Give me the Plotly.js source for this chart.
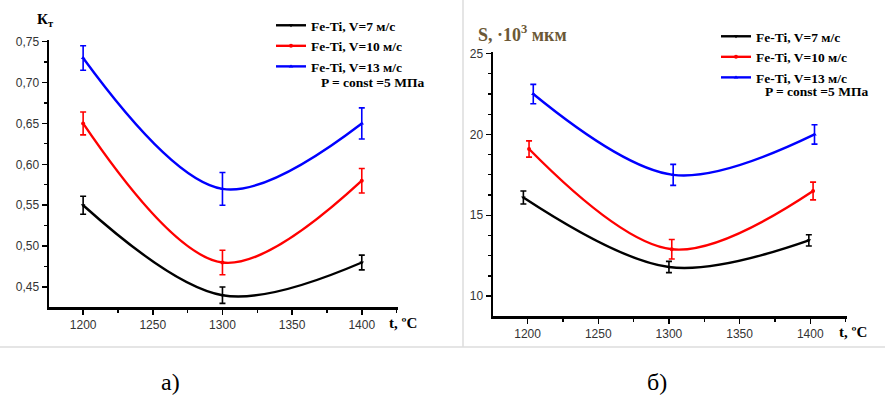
<!DOCTYPE html>
<html>
<head>
<meta charset="utf-8">
<script src="https://cdn.plot.ly/plotly-3.0.1.min.js"></script>
<style>
  html, body { margin: 0; padding: 0; background: #fff; }
  #chart { width: 885px; height: 403px; }
</style>
</head>
<body>
<div id="chart"></div>
<script>
// Temperature points, °C
const tempA = [1200, 1300, 1400];
const tempB7 = [1197, 1300, 1399];
const tempB10 = [1201, 1302, 1402];
const tempB13 = [1204, 1303, 1403];

// Series names
const seriesNames = ['Fe-Ti, V=7 м/с', 'Fe-Ti, V=10 м/с', 'Fe-Ti, V=13 м/с'];

// Panel а) — coefficient Kт
const kt7 = [0.55, 0.44, 0.48];
const kt10 = [0.65, 0.48, 0.58];
const kt13 = [0.73, 0.57, 0.65];
const kt7Err = [0.011, 0.010, 0.009];
const kt10Err = [0.014, 0.015, 0.015];
const kt13Err = [0.015, 0.020, 0.019];

// Panel б) — S, ·10³ мкм
const s7 = [16.1, 11.8, 13.45];
const s10 = [19.1, 12.9, 16.5];
const s13 = [22.5, 17.5, 20.0];
const s7Err = [0.4, 0.35, 0.35];
const s10Err = [0.5, 0.6, 0.55];
const s13Err = [0.6, 0.65, 0.6];

const colors = ['#000000', '#ff0000', '#0000ff'];
const symbols = ['triangle-down', 'circle', 'triangle-up'];

function series(x, y, err, i, xa, ya, legendId) {
  return {
    x: x, y: y, type: 'scatter', mode: 'lines+markers',
    name: seriesNames[i], xaxis: xa, yaxis: ya, legend: legendId,
    line: { color: colors[i], width: 2.4, shape: 'spline', smoothing: 1 },
    marker: { color: colors[i], size: 4, symbol: symbols[i] },
    error_y: { type: 'data', array: err, visible: true, color: colors[i], thickness: 1.6, width: 3 }
  };
}

const data = [
  series(tempA, kt7, kt7Err, 0, 'x', 'y', 'legend'),
  series(tempA, kt10, kt10Err, 1, 'x', 'y', 'legend'),
  series(tempA, kt13, kt13Err, 2, 'x', 'y', 'legend'),
  series(tempB7, s7, s7Err, 0, 'x2', 'y2', 'legend2'),
  series(tempB10, s10, s10Err, 1, 'x2', 'y2', 'legend2'),
  series(tempB13, s13, s13Err, 2, 'x2', 'y2', 'legend2')
];

const serifFamily = 'Liberation Serif, Times New Roman, serif';
const tickFont = { family: 'Liberation Sans, Arial, sans-serif', size: 12, color: '#333' };
const legendFont = { family: serifFamily, size: 13.5, color: '#000', weight: 'bold' };

function xAxis(domain, anchor) {
  return {
    domain: domain, anchor: anchor, range: [1175.5, 1426],
    showline: true, linewidth: 2.5, linecolor: '#000',
    ticks: 'outside', ticklen: 5, tickwidth: 1.5, tickcolor: '#000',
    tick0: 1200, dtick: 50,
    minor: { dtick: 25, ticks: 'outside', ticklen: 3, tickwidth: 1.2, tickcolor: '#000' },
    showgrid: false, zeroline: false, tickfont: tickFont, fixedrange: true
  };
}

function yAxis(domain, anchor, range, tick0, dtick, minorDtick, fmt) {
  return {
    domain: domain, anchor: anchor, range: range,
    showline: true, linewidth: 2.5, linecolor: '#000',
    ticks: 'outside', ticklen: 5, tickwidth: 1.5, tickcolor: '#000',
    tick0: tick0, dtick: dtick, tickformat: fmt,
    minor: { dtick: minorDtick, ticks: 'outside', ticklen: 3, tickwidth: 1.2, tickcolor: '#000' },
    showgrid: false, zeroline: false, tickfont: tickFont, fixedrange: true
  };
}

const legendCommon = {
  xanchor: 'left', yanchor: 'top', bgcolor: 'rgba(0,0,0,0)',
  borderwidth: 0, font: legendFont, itemwidth: 30
};

// Free text placed by its centre
function label(xPx, yPx, text, font) {
  return {
    xref: 'paper', yref: 'paper', x: xPx / 885, y: 1 - yPx / 403,
    xanchor: 'center', yanchor: 'middle', text: text, showarrow: false, font: font
  };
}

const unitFont = { family: serifFamily, size: 15, color: '#000', weight: 'bold' };
const captionFont = { family: serifFamily, size: 24, color: '#000' };

const layout = {
  width: 885, height: 403,
  margin: { l: 0, r: 0, t: 0, b: 0 },
  paper_bgcolor: '#fff', plot_bgcolor: '#fff',
  separators: ', ',
  showlegend: true,
  legend: Object.assign({ x: 271 / 885, y: 1 - 10 / 403 }, legendCommon),
  legend2: Object.assign({ x: 716 / 885, y: 1 - 21 / 403 }, legendCommon),
  xaxis: xAxis([49 / 885, 398 / 885], 'y'),
  yaxis: yAxis([96 / 403, 363 / 403], 'x', [0.4256, 0.752], 0.45, 0.05, 0.025, '.2f'),
  xaxis2: xAxis([493 / 885, 847 / 885], 'y2'),
  yaxis2: yAxis([87 / 403, 351 / 403], 'x2', [8.77, 25.1], 10, 5, 1.25, 'd'),
  shapes: [
    { type: 'line', xref: 'paper', yref: 'paper', x0: 463 / 885, x1: 463 / 885, y0: 56 / 403, y1: 1,
      line: { color: '#dcdcdc', width: 1.5 } },
    { type: 'line', xref: 'paper', yref: 'paper', x0: 0, x1: 1, y0: 56 / 403, y1: 56 / 403,
      line: { color: '#dcdcdc', width: 1.5 } }
  ],
  annotations: [
    label(45, 20, 'К<sub>т</sub>', { family: serifFamily, size: 15, color: '#000', weight: 'bold' }),
    label(522, 33, 'S, ·10<sup>3</sup> мкм', { family: serifFamily, size: 18, color: '#6b5836', weight: 'bold' }),
    label(372, 82, 'P = const =5 МПа', legendFont),
    label(816, 91, 'P = const =5 МПа', legendFont),
    label(403, 323, 't, ºC', unitFont),
    label(853, 332, 't, ºC', unitFont),
    label(170, 382, 'а)', captionFont),
    label(657, 382, 'б)', captionFont)
  ]
};

Plotly.newPlot('chart', data, layout, { displayModeBar: false, staticPlot: true });
</script>
</body>
</html>
